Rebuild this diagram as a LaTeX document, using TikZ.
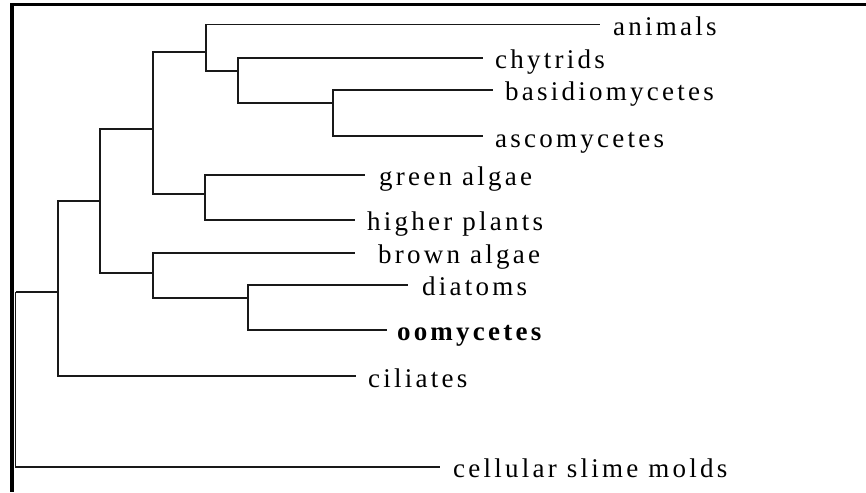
\documentclass[tikz,border=0pt]{standalone}
\usepackage{fontspec}
\setmainfont{Liberation Serif}[LetterSpace=12]
\begin{document}
\begin{tikzpicture}[x=1pt,y=-1pt,
  branch/.style={line width=1.6pt, black!90},
  frameline/.style={black},
  leaf/.style={anchor=base west, inner sep=0pt, font=\fontsize{27}{31}\selectfont}]
\useasboundingbox (0,0) rectangle (866,492);
% frame
\draw[frameline, line width=3pt] (10,5) -- (866,5);
\draw[frameline, line width=4pt] (12,3.5) -- (12,492);
% internal nodes
\coordinate (R)  at (15.5,292);
\coordinate (N1) at (58,292);
\coordinate (N2) at (100,201);
\coordinate (N3) at (153,129);
\coordinate (N4) at (206,52);
\coordinate (N5) at (238,71);
\coordinate (N6) at (333,103);
\coordinate (N7) at (205,194);
\coordinate (N8) at (153,273);
\coordinate (N9) at (248,298);
% leaf ends
\coordinate (e-ani) at (600,24.5);
\coordinate (e-chy) at (483,58);
\coordinate (e-bas) at (493,90);
\coordinate (e-asc) at (483,136);
\coordinate (e-gre) at (365,175);
\coordinate (e-hig) at (355,220);
\coordinate (e-bro) at (355,253);
\coordinate (e-dia) at (408,285);
\coordinate (e-oom) at (387,330);
\coordinate (e-cil) at (356,376);
\coordinate (e-sli) at (440,467);
% labels
\node[leaf] (ani) at (613,35.5) {animals};
\node[leaf] (chy) at (495,69) {chytrids};
\node[leaf] (bas) at (505,101) {basidiomycetes};
\node[leaf] (asc) at (495,147) {ascomycetes};
\node[leaf] (gre) at (379,185.5) {green algae};
\node[leaf] (hig) at (367,230.5) {higher plants};
\node[leaf] (bro) at (378,263.5) {brown algae};
\node[leaf] (dia) at (422,295.5) {diatoms};
\node[leaf, font=\fontsize{27}{31}\selectfont\bfseries] (oom) at (397,340.5) {oo\kern3pt mycetes};
\node[leaf] (cil) at (368,387) {ciliates};
\node[leaf] (sli) at (453,477) {cellular slime molds};
% branches
\draw[branch] (R) |- (N1);
\draw[branch] (R) |- (e-sli);
\draw[branch] (N1) |- (N2);
\draw[branch] (N1) |- (e-cil);
\draw[branch] (N2) |- (N3);
\draw[branch] (N2) |- (N8);
\draw[branch] (N3) |- (N4);
\draw[branch] (N3) |- (N7);
\draw[branch] (N4) |- (e-ani);
\draw[branch] (N4) |- (N5);
\draw[branch] (N5) |- (e-chy);
\draw[branch] (N5) |- (N6);
\draw[branch] (N6) |- (e-bas);
\draw[branch] (N6) |- (e-asc);
\draw[branch] (N7) |- (e-gre);
\draw[branch] (N7) |- (e-hig);
\draw[branch] (N8) |- (e-bro);
\draw[branch] (N8) |- (N9);
\draw[branch] (N9) |- (e-dia);
\draw[branch] (N9) |- (e-oom);
\end{tikzpicture}
\end{document}
